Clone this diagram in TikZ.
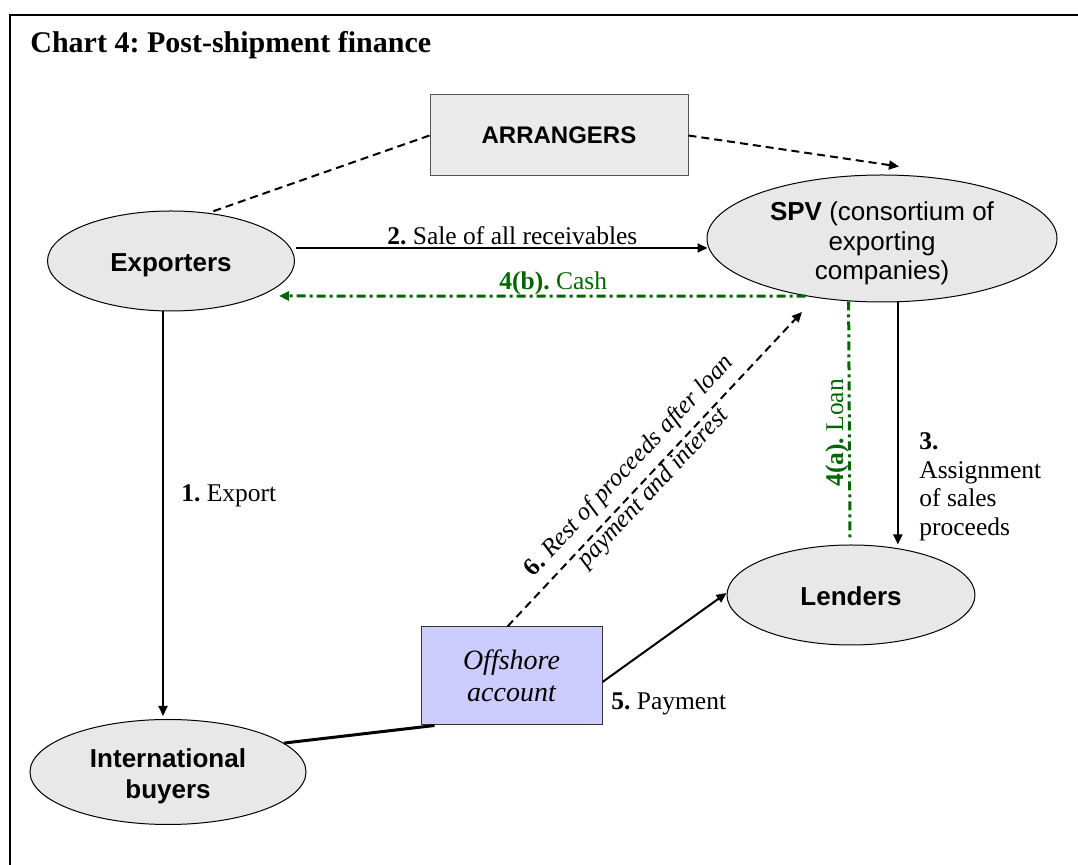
\documentclass[tikz,border=0pt]{standalone}
\usepackage{fontspec}
\setmainfont{Liberation Serif}
\setsansfont{Liberation Sans}
\usetikzlibrary{arrows.meta,calc,shapes.geometric}
\frenchspacing

\definecolor{partygray}{HTML}{E8E8E8}
\definecolor{boxgray}{HTML}{EAEAEA}
\definecolor{boxedge}{HTML}{555555}
\definecolor{accountblue}{HTML}{CCCCFF}
\definecolor{flowgreen}{HTML}{006600}

\begin{document}
\begin{tikzpicture}[x=0.5pt,y=-0.5pt,
  party/.style={ellipse, draw=black, line width=0.5pt, fill=partygray, inner sep=0pt,
    align=center, font=\sffamily\fontsize{13}{15.5}\selectfont},
  partytext/.style={inner sep=0pt, align=center, font=\sffamily\fontsize{13}{14.8}\selectfont},
  infobox/.style={rectangle, draw=boxedge, line width=0.5pt, inner sep=0pt, align=center},
  flowlabel/.style={inner sep=0pt, font=\fontsize{12.75}{14.4}\selectfont},
  tip/.style={-{Triangle[length=5pt,width=4.5pt]}},
  flow/.style={line width=1pt},
  hint/.style={line width=1pt, dash pattern=on 4pt off 2.5pt},
  money/.style={line width=1.5pt, flowgreen, dash pattern=on 4.5pt off 2pt on 1.5pt off 2pt},
]
\useasboundingbox (0,0) rectangle (1078,865);

% frame and title
\draw[line width=1pt] (10,865) -- (10,15) -- (1078,15);
\node[anchor=base west, inner sep=0pt, font=\fontsize{15}{18}\selectfont\bfseries]
  (title) at (30,53) {Chart 4: Post-shipment finance};

% parties
\node[party, minimum width=123.5pt, minimum height=50pt, text height=13.5pt, text depth=2.7pt]
  (exp) at (171,261) {\textbf{Exporters}};
\node[party, minimum width=175pt, minimum height=63.5pt] (spv) at (882,238.5) {};
\node[partytext] (spvtext) at ($(spv.center)+(0,5)$)
  {\textbf{SPV} (consortium of\\exporting\\companies)};
\node[party, minimum width=124pt, minimum height=50pt, text height=13.5pt, text depth=2.7pt]
  (lend) at (851,595) {\textbf{Lenders}};
\node[party, minimum width=138pt, minimum height=52.5pt] (ib) at (168,772) {};
\node[partytext, font=\sffamily\bfseries\fontsize{13}{15.5}\selectfont] (ibtext)
  at ($(ib.center)+(0,4)$) {International\\buyers};

% boxes
\node[infobox, fill=boxgray, minimum width=129pt, minimum height=40.5pt,
  font=\sffamily\bfseries\fontsize{12}{14}\selectfont] (arr) at (559,135.5) {ARRANGERS};
\node[infobox, fill=accountblue, draw=black!80, minimum width=90.5pt, minimum height=49pt,
  font=\itshape\fontsize{14}{16}\selectfont] (off) at (511.5,676) {Offshore\\account};

% arrangers links
\draw[hint] (arr.west) -- (exp.52);
\draw[hint, tip] (arr.east) -- ($(spv.north)+(17,-8)$);

% 1. export
\draw[flow, tip] ($(exp.south)+(-8,0)$) -- ($(ib.north)+(-5,-3)$);
\node[flowlabel, anchor=base west] (l1) at (181,502) {\textbf{1.} Export};

% 2. sale of receivables
\draw[flow, tip] ($(exp.east)+(1,-13)$) -- ($(spv.west)+(1,9.5)$);
\node[flowlabel, anchor=base west] (l2) at (387,245) {\textbf{2.} Sale of all receivables};

% 3. assignment
\draw[flow, tip] (spv.284.2) -- (spv.284.2 |- lend.north);
\node[flowlabel, anchor=north west, align=left] (l3) at (919,432)
  {\textbf{3.}\\Assignment\\of sales\\proceeds};

% 4(a) loan and 4(b) cash
\draw[money] (spv.242.85) -- ($(lend.north)+(-1,-7)$);
\node[flowlabel, anchor=base west, rotate=90, text=flowgreen] (l4a) at (843,487)
  {\textbf{4(a).} Loan};
\draw[money, tip] (spv.217.5) -- ($(exp.center)+(108,35)$);
\node[flowlabel, anchor=base west, text=flowgreen] (l4b) at (499,290) {\textbf{4(b).} Cash};

% 5. payment
\draw[line width=1.5pt] (ib.14.4) -- ($(off.south west)+(14,0)$);
\draw[flow, tip] ($(off.east)+(0,6)$) -- ($(lend.west)+(0,-2)$);
\node[flowlabel, anchor=base west] (l5) at (611,710) {\textbf{5.} Payment};

% 6. rest of proceeds
\draw[hint, tip] ($(off.north)+(-4,0)$) -- node[pos=0.466, sloped, yshift=2pt, inner sep=0pt,
  align=center, font=\itshape\fontsize{12.5}{16.5}\selectfont] (l6)
  {\textbf{\upshape 6.} Rest of proceeds after loan\\payment and interest}
  ($(spv.center)+(-80,73.5)$);
\end{tikzpicture}
\end{document}
